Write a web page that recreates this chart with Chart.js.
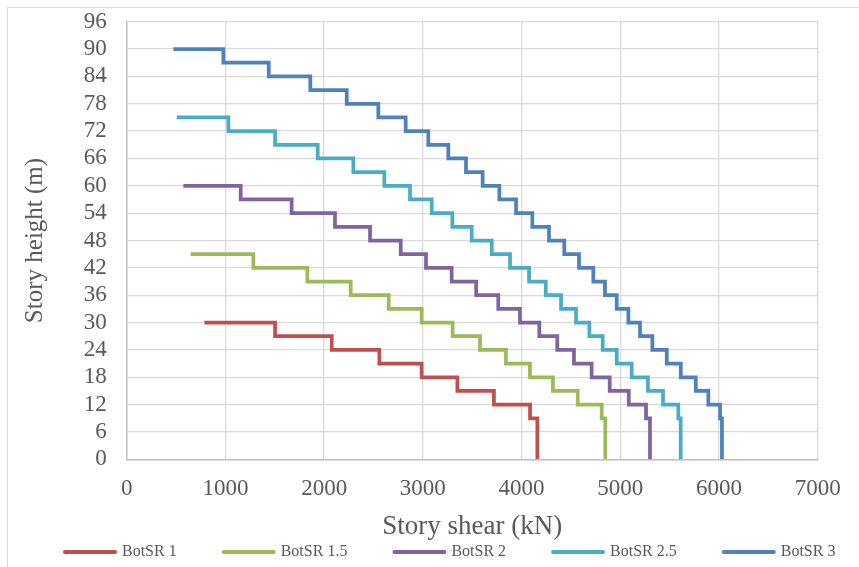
<!DOCTYPE html>
<html lang="en">
<head>
    <meta charset="UTF-8">
    <title>Story shear vs story height</title>
    <script src="https://cdn.jsdelivr.net/npm/chart.js@4.4.1/dist/chart.umd.min.js"></script>
    <style>
        body {
            margin: 0;
            background: #ffffff;
        }
        /* thin outer border of the chart object */
        .frame {
            position: absolute;
            left: 7px;
            top: 7px;
            width: 860px;
            height: 570px;
            border: 1px solid #d9d9d9;
            box-sizing: border-box;
        }
        #shearChart {
            position: absolute;
            left: 0;
            top: 0;
        }
    </style>
</head>
<body>
    <div class="frame"></div>
    <canvas id="shearChart" width="859" height="567"></canvas>
    <script>
        // story heights (m) and story shear (kN) for each BotSR case
        const heightSR1 = [30, 27, 24, 21, 18, 15, 12, 9, 0];
        const shearSR1 = [787, 1503, 2077, 2559, 2988, 3350, 3720, 4086, 4160];

        const heightSR15 = [45, 42, 39, 36, 33, 30, 27, 24, 21, 18, 15, 12, 9, 0];
        const shearSR15 = [648, 1283, 1830, 2269, 2654, 2988, 3302, 3579, 3842, 4085, 4318, 4569, 4812, 4848];

        const heightSR2 = [60, 57, 54, 51, 48, 45, 42, 39, 36, 33, 30, 27, 24, 21, 18, 15, 12, 9, 0];
        const shearSR2 = [574, 1155, 1671, 2110, 2465, 2776, 3032, 3292, 3540, 3764, 3984, 4180, 4362, 4531, 4710, 4893, 5086, 5261, 5301];

        const heightSR25 = [75, 72, 69, 66, 63, 60, 57, 54, 51, 48, 45, 42, 39, 36, 33, 30, 27, 24, 21, 18, 15, 12, 9, 0];
        const shearSR25 = [507, 1030, 1503, 1935, 2296, 2610, 2870, 3090, 3299, 3495, 3698, 3883, 4076, 4245, 4400, 4552, 4687, 4822, 4964, 5116, 5280, 5433, 5588, 5612];

        const heightSR3 = [90, 87, 84, 81, 78, 75, 72, 69, 66, 63, 60, 57, 54, 51, 48, 45, 42, 39, 36, 33, 30, 27, 24, 21, 18, 15, 12, 9, 0];
        const shearSR3 = [473, 979, 1439, 1860, 2229, 2549, 2826, 3055, 3258, 3437, 3606, 3775, 3944, 4109, 4278, 4433, 4582, 4727, 4845, 4964, 5082, 5200, 5325, 5471, 5613, 5765, 5892, 6011, 6030];

        const seriesNames = ['BotSR 1', 'BotSR 1.5', 'BotSR 2', 'BotSR 2.5', 'BotSR 3'];
        const seriesColors = ['#c0504d', '#9bbb59', '#8064a2', '#4bacc6', '#4f81bd'];

        const xMax = 7000, xStep = 1000;
        const yMax = 96, yStep = 6;

        function toPoints(shear, height) {
            return shear.map((v, i) => ({ x: v, y: height[i] }));
        }

        const allShear = [shearSR1, shearSR15, shearSR2, shearSR25, shearSR3];
        const allHeight = [heightSR1, heightSR15, heightSR2, heightSR25, heightSR3];

        const datasets = seriesNames.map((name, i) => ({
            label: name,
            data: toPoints(allShear[i], allHeight[i]),
            borderColor: seriesColors[i],
            backgroundColor: seriesColors[i],
            borderWidth: 3.75,
            stepped: 'before',
            pointRadius: 0,
            fill: false,
            order: seriesNames.length - i
        }));

        // legend row along the bottom, line sample + name
        const legendRow = {
            id: 'legendRow',
            afterDraw(chart) {
                const ctx = chart.ctx;
                ctx.save();
                ctx.font = '16px "Liberation Serif", "Times New Roman", serif';
                ctx.textBaseline = 'middle';
                let x = 63;
                const y = 552;
                chart.data.datasets.forEach(ds => {
                    ctx.strokeStyle = ds.borderColor;
                    ctx.lineWidth = 4;
                    ctx.lineCap = 'round';
                    ctx.beginPath();
                    ctx.moveTo(x + 2, y);
                    ctx.lineTo(x + 52, y);
                    ctx.stroke();
                    ctx.fillStyle = '#595959';
                    ctx.fillText(ds.label, x + 59, y);
                    x += 59 + ctx.measureText(ds.label).width + 45;
                });
                ctx.restore();
            }
        };

        Chart.defaults.font.family = '"Liberation Serif", "Times New Roman", serif';
        Chart.defaults.color = '#595959';

        const ctx = document.getElementById('shearChart').getContext('2d');
        const shearChart = new Chart(ctx, {
            type: 'line',
            data: { datasets: datasets },
            options: {
                responsive: false,
                animation: false,
                events: [],
                layout: {
                    padding: { left: 0, top: 21.7, right: 41.3, bottom: 24.1 }
                },
                plugins: {
                    legend: { display: false },
                    tooltip: { enabled: false }
                },
                scales: {
                    x: {
                        type: 'linear',
                        min: 0,
                        max: xMax,
                        ticks: {
                            stepSize: xStep,
                            padding: 16,
                            font: { size: 23 },
                            maxRotation: 0,
                            autoSkip: false,
                            callback: v => String(v)
                        },
                        grid: { color: '#d9d9d9', lineWidth: 1.3, drawTicks: false },
                        border: { color: '#bfbfbf', width: 1.5 },
                        title: {
                            display: true,
                            text: 'Story shear (kN)',
                            font: { size: 27 },
                            padding: { top: 0, bottom: 0 }
                        },
                        afterFit(scale) { scale.height = 83.6; }
                    },
                    y: {
                        min: 0,
                        max: yMax,
                        ticks: {
                            stepSize: yStep,
                            padding: 20,
                            font: { size: 23, lineHeight: 1 },
                            autoSkip: false,
                            callback: v => String(v)
                        },
                        grid: { color: '#d9d9d9', lineWidth: 1.3, drawTicks: false },
                        border: { color: '#bfbfbf', width: 1.5 },
                        title: {
                            display: true,
                            text: 'Story height (m)',
                            font: { size: 25 },
                            padding: { top: 20, bottom: 0 }
                        },
                        afterFit(scale) {
                            scale.width = 126.7;
                            // tick label overhang is already covered by layout padding
                            scale.paddingTop = 0;
                            scale.paddingBottom = 0;
                        }
                    }
                }
            },
            plugins: [legendRow]
        });
    </script>
</body>
</html>
